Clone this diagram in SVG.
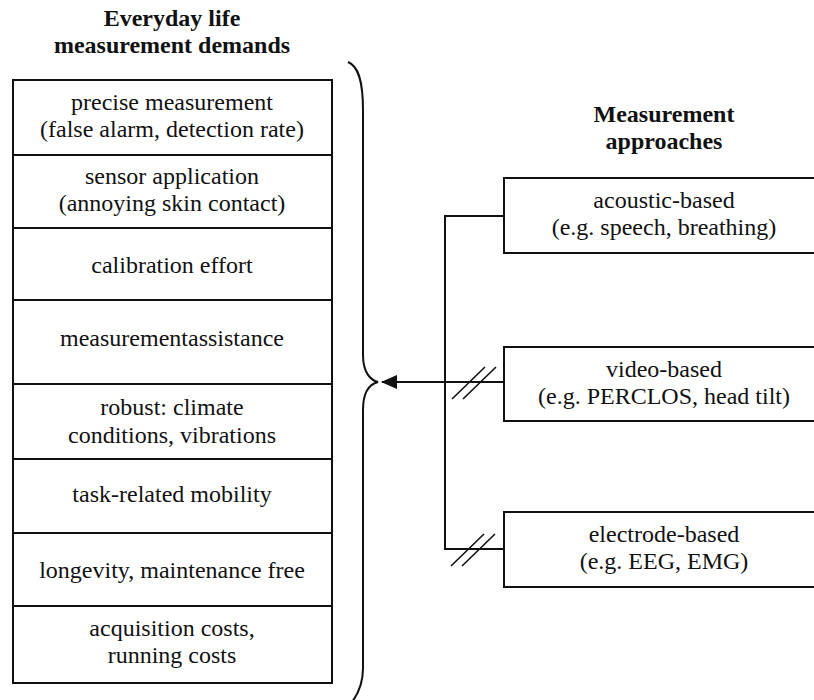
<svg xmlns="http://www.w3.org/2000/svg" width="814" height="700" viewBox="0 0 814 700">
<style>
text{font-size:24px;fill:#111;text-anchor:middle}
.t{font-weight:bold}
.box{fill:#fff;stroke:#111;stroke-width:2}
.ln{fill:none;stroke:#111;stroke-width:2}
.sl{fill:none;stroke:#111;stroke-width:1.6}
</style>
<defs>
<marker id="ah" markerWidth="16" markerHeight="14" refX="15" refY="7" orient="auto" markerUnits="userSpaceOnUse">
<path d="M0,0 L16,7 L0,14 Z" fill="#111"/>
</marker>
</defs>
<rect width="814" height="700" fill="#fff"/>
<g font-family="Liberation Serif, Times New Roman, DejaVu Serif, serif">
<g id="title-left">
<text class="t" x="172" y="26">Everyday life</text>
<text class="t" x="172" y="53">measurement demands</text>
</g>
<g id="title-right">
<text class="t" x="664" y="122">Measurement</text>
<text class="t" x="664" y="149">approaches</text>
</g>
<g id="demands">
<g id="d1"><rect class="box" x="13" y="80" width="319" height="75"/><text x="172" y="110">precise measurement</text><text x="172" y="137">(false alarm, detection rate)</text></g>
<g id="d2"><rect class="box" x="13" y="155" width="319" height="73"/><text x="172" y="184">sensor application</text><text x="172" y="211">(annoying skin contact)</text></g>
<g id="d3"><rect class="box" x="13" y="228" width="319" height="72"/><text x="172" y="273">calibration effort</text></g>
<g id="d4"><rect class="box" x="13" y="300" width="319" height="84"/><text x="172" y="346">measurementassistance</text></g>
<g id="d5"><rect class="box" x="13" y="384" width="319" height="75"/><text x="172" y="415">robust: climate</text><text x="172" y="443">conditions, vibrations</text></g>
<g id="d6"><rect class="box" x="13" y="459" width="319" height="74"/><text x="172" y="502">task-related mobility</text></g>
<g id="d7"><rect class="box" x="13" y="533" width="319" height="73"/><text x="172" y="578">longevity, maintenance free</text></g>
<g id="d8"><rect class="box" x="13" y="606" width="319" height="77"/><text x="172" y="636">acquisition costs,</text><text x="172" y="663">running costs</text></g>
</g>
<g id="approaches">
<g id="acoustic"><rect class="box" x="504" y="178" width="321" height="75"/><text x="664" y="208">acoustic-based</text><text x="664" y="235">(e.g. speech, breathing)</text></g>
<g id="video"><rect class="box" x="504" y="347" width="321" height="74"/><text x="664" y="377">video-based</text><text x="664" y="404">(e.g. PERCLOS, head tilt)</text></g>
<g id="electrode"><rect class="box" x="504" y="512" width="321" height="75"/><text x="664" y="542">electrode-based</text><text x="664" y="569">(e.g. EEG, EMG)</text></g>
</g>
</g>
<g id="brace">
<path class="ln" d="M348,62 C358,66 363,80 363,110 L363,355 C363,372 370,380 378,382 C370,384 363,392 363,410 L363,668 C363,684 358,694 352,702"/>
</g>
<g id="connectors">
<path class="ln" d="M504,216 L445,216 L445,549 L504,549"/>
<path class="ln" d="M504,382 L382,382" marker-end="url(#ah)"/>
<path class="sl" d="M452,399 L485,367 M463,399 L496,367"/>
<path class="sl" d="M451,566 L484,534 M462,566 L495,534"/>
</g>
</svg>
